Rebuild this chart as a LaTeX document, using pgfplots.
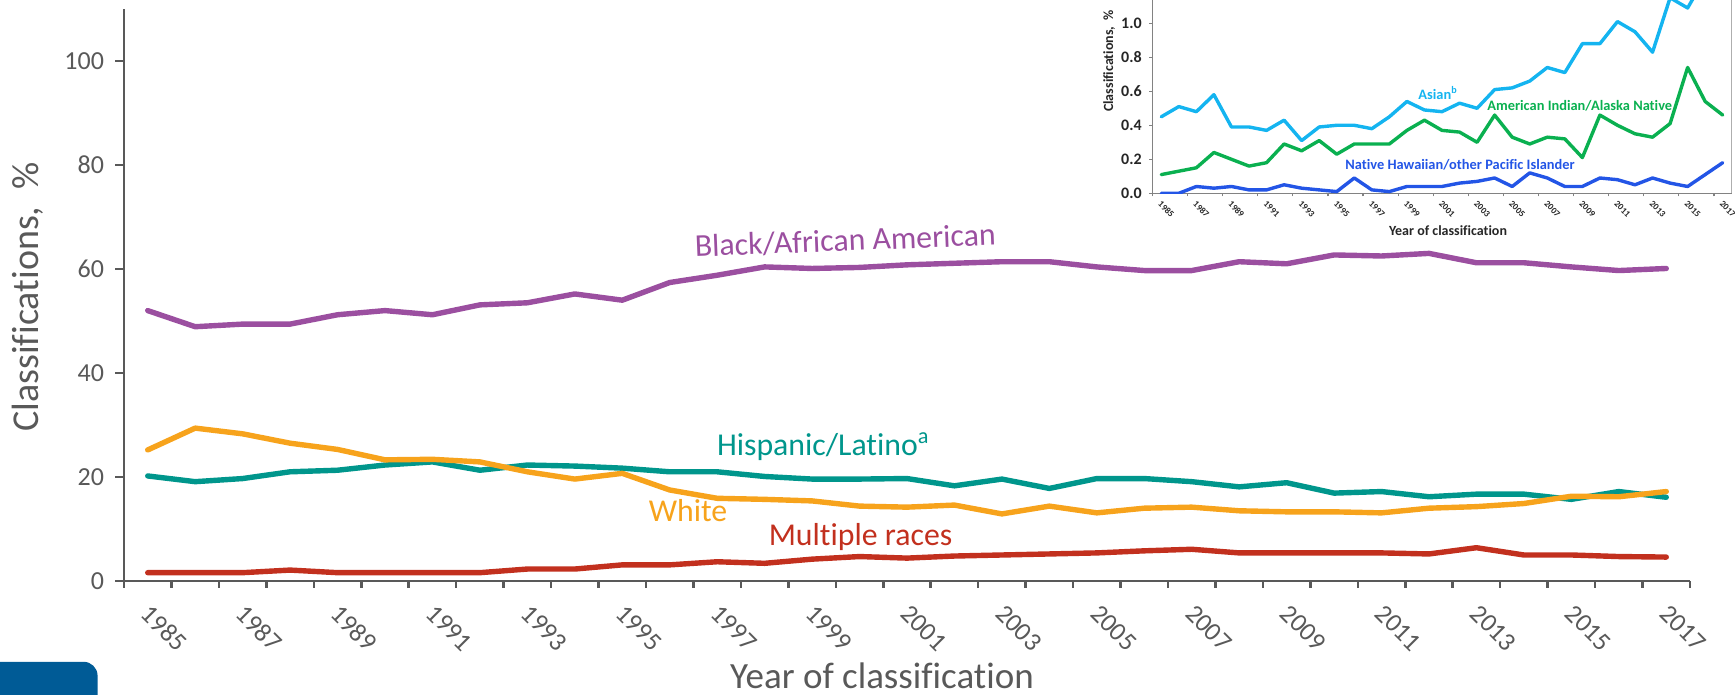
\documentclass[border=0pt]{standalone}
\usepackage{fontspec}
\setmainfont{Carlito}[Ligatures=NoCommon]
\usepackage{pgfplots}
\usepackage{pgfplotstable}
\pgfplotsset{compat=1.18}
\definecolor{axisgray}{RGB}{89,89,89}
\definecolor{cblack}{RGB}{155,79,160}
\definecolor{chisp}{RGB}{0,150,140}
\definecolor{cwhite}{RGB}{247,163,28}
\definecolor{cmulti}{RGB}{194,48,30}
\definecolor{casian}{RGB}{20,180,240}
\definecolor{camind}{RGB}{10,176,80}
\definecolor{cnhpi}{RGB}{35,85,230}
\definecolor{logoblue}{RGB}{0,91,150}
\definecolor{insetgray}{RGB}{130,130,130}
\definecolor{insettext}{RGB}{38,38,38}

\pgfplotstableread{
year black hisp white multi
1985 52.0 20.2 25.2 1.6
1986 48.9 19.1 29.4 1.6
1987 49.4 19.7 28.3 1.6
1988 49.4 21.0 26.5 2.1
1989 51.2 21.3 25.3 1.6
1990 52.0 22.3 23.3 1.6
1991 51.2 22.9 23.4 1.6
1992 53.1 21.3 22.9 1.6
1993 53.5 22.3 21.0 2.3
1994 55.2 22.1 19.6 2.3
1995 54.0 21.7 20.7 3.1
1996 57.4 21.0 17.5 3.1
1997 58.8 21.0 15.9 3.7
1998 60.4 20.1 15.7 3.4
1999 60.1 19.6 15.4 4.2
2000 60.3 19.6 14.4 4.7
2001 60.8 19.7 14.2 4.4
2002 61.1 18.3 14.6 4.8
2003 61.4 19.6 12.9 5.0
2004 61.4 17.8 14.4 5.2
2005 60.4 19.7 13.1 5.4
2006 59.7 19.7 14.0 5.8
2007 59.7 19.1 14.2 6.1
2008 61.4 18.1 13.5 5.4
2009 61.0 18.9 13.3 5.4
2010 62.7 16.9 13.3 5.4
2011 62.5 17.2 13.1 5.4
2012 63.0 16.2 14.0 5.2
2013 61.2 16.7 14.3 6.4
2014 61.2 16.7 14.9 5.0
2015 60.4 15.7 16.3 5.0
2016 59.7 17.2 16.2 4.7
2017 60.1 16.1 17.2 4.6
}\maindata

\pgfplotstableread{
year asian amind nhpi
1985 0.45 0.11 0.00
1986 0.51 0.13 0.00
1987 0.48 0.15 0.04
1988 0.58 0.24 0.03
1989 0.39 0.20 0.04
1990 0.39 0.16 0.02
1991 0.37 0.18 0.02
1992 0.43 0.29 0.05
1993 0.31 0.25 0.03
1994 0.39 0.31 0.02
1995 0.40 0.23 0.01
1996 0.40 0.29 0.09
1997 0.38 0.29 0.02
1998 0.45 0.29 0.01
1999 0.54 0.37 0.04
2000 0.49 0.43 0.04
2001 0.48 0.37 0.04
2002 0.53 0.36 0.06
2003 0.50 0.30 0.07
2004 0.61 0.46 0.09
2005 0.62 0.33 0.04
2006 0.66 0.29 0.12
2007 0.74 0.33 0.09
2008 0.71 0.32 0.04
2009 0.88 0.21 0.04
2010 0.88 0.46 0.09
2011 1.01 0.40 0.08
2012 0.95 0.35 0.05
2013 0.83 0.33 0.09
2014 1.15 0.41 0.06
2015 1.09 0.74 0.04
2016 1.27 0.54 0.11
2017 1.30 0.46 0.18
}\insetdata

\begin{document}
\begin{tikzpicture}
\path[use as bounding box] (0,0) rectangle (867.5pt,347.5pt);

% logo fragment bottom left
\fill[logoblue, rounded corners=7pt] (-12pt,-12pt) rectangle (48.8pt,16.6pt);

\begin{axis}[
  at={(62pt,57pt)}, anchor=south west,
  width=783pt, height=286pt, scale only axis,
  xmin=0, xmax=33, ymin=0, ymax=110,
  axis lines*=left,
  axis line style={axisgray, line width=1.3pt},
  tick align=outside,
  major tick length=4.5pt, minor tick length=3.5pt,
  /pgf/number format/assume math mode=true,
  ytick={0,20,40,60,80,100},
  yticklabels={0,20,40,60,80,100},
  xtick={0.5,2.5,...,32.5},
  xticklabels={1985,1987,1989,1991,1993,1995,1997,1999,2001,2003,2005,2007,2009,2011,2013,2015,2017},
  minor xtick={0,1,...,33},
  every major x tick/.append style={draw=none},
  every minor x tick/.append style={axisgray, line width=1.3pt},
  every major y tick/.append style={axisgray, line width=1.3pt},
  yticklabel style={font=\fontsize{13}{15}\selectfont, text=axisgray, xshift=-2pt},
  xticklabel style={font=\fontsize{13}{15}\selectfont, text=axisgray, rotate=-45, anchor=north west, inner sep=0pt, xshift=6pt, yshift=-3pt},
  clip=false,
  every axis plot/.append style={line width=2.7pt, line join=round, line cap=round},
]
\addplot[cblack] table[x expr=\thisrow{year}-1984.5, y=black] {\maindata};
\addplot[chisp] table[x expr=\thisrow{year}-1984.5, y=hisp] {\maindata};
\addplot[cwhite] table[x expr=\thisrow{year}-1984.5, y=white] {\maindata};
\addplot[cmulti] table[x expr=\thisrow{year}-1984.5, y=multi] {\maindata};
\end{axis}

% main labels
\node[rotate=90, anchor=base, inner sep=0pt, text=axisgray, font=\fontsize{19}{21}\selectfont] at (19pt,199pt) {Classifications,~~\%};
\node[anchor=base, inner sep=0pt, text=axisgray, font=\fontsize{18.5}{20}\selectfont] at (441pt,3pt) {Year of classification};
\node[anchor=base west, inner sep=0pt, rotate=2.3, text=cblack, font=\fontsize{15.9}{17}\selectfont] at (347.5pt,219pt) {Black/African American};
\node[anchor=base west, inner sep=0pt, text=chisp, font=\fontsize{15.9}{17}\selectfont] at (358.3pt,119.6pt) {Hispanic/Latino\textsuperscript{a}};
\node[anchor=base west, inner sep=0pt, text=cwhite, font=\fontsize{15.9}{17}\selectfont] at (324.2pt,86.6pt) {White};
\node[anchor=base west, inner sep=0pt, text=cmulti, font=\fontsize{15.9}{17}\selectfont] at (384.2pt,74.5pt) {Multiple races};

% inset
\begin{axis}[
  at={(576.25pt,250.85pt)}, anchor=south west,
  width=289.5pt, height=96.65pt, scale only axis,
  xmin=-0.5, xmax=32.5, ymin=0, ymax=1.137,
  axis lines*=left,
  axis line style={insetgray, line width=0.7pt},
  tick align=outside,
  major tick length=1.6pt, minor tick length=1.6pt,
  /pgf/number format/assume math mode=true,
  ytick={0,0.2,0.4,0.6,0.8,1.0},
  yticklabels={0.0,0.2,0.4,0.6,0.8,1.0},
  xtick={0,2,...,32},
  xticklabels={1985,1987,1989,1991,1993,1995,1997,1999,2001,2003,2005,2007,2009,2011,2013,2015,2017},
  minor xtick={-0.5,1.5,...,31.5},
  every major x tick/.append style={draw=none},
  every minor x tick/.append style={insetgray, line width=0.6pt},
  every major y tick/.append style={insetgray, line width=0.6pt},
  yticklabel style={font=\bfseries\fontsize{8}{9}\selectfont, text=insettext, xshift=-0.3pt},
  xticklabel style={font=\bfseries\fontsize{4.5}{5}\selectfont, text=insettext, rotate=-45, anchor=north west, inner sep=0pt, xshift=1.5pt, yshift=-1pt},
  every axis plot/.append style={line width=1.7pt, line join=round, line cap=round},
]
\addplot[casian] table[x expr=\thisrow{year}-1985, y=asian] {\insetdata};
\addplot[camind] table[x expr=\thisrow{year}-1985, y=amind] {\insetdata};
\addplot[cnhpi] table[x expr=\thisrow{year}-1985, y=nhpi] {\insetdata};
\draw[insetgray, line width=0.7pt] (rel axis cs:1,0) -- (rel axis cs:1,1.05);
\end{axis}

\node[rotate=90, anchor=base, inner sep=0pt, text=insettext, font=\bfseries\fontsize{7}{8}\selectfont] at (556.5pt,317pt) {Classifications,~~\%};
\node[anchor=center, inner sep=0pt, text=insettext, font=\bfseries\fontsize{7}{8}\selectfont] at (724pt,232pt) {Year of classification};
\node[anchor=west, inner sep=0pt, text=casian, font=\bfseries\fontsize{7.2}{8}\selectfont] at (709pt,301pt) {Asian\textsuperscript{b}};
\node[anchor=west, inner sep=0pt, text=camind, font=\bfseries\fontsize{7.2}{8}\selectfont] at (743.5pt,294.5pt) {American Indian/Alaska Native};
\node[anchor=west, inner sep=0pt, text=cnhpi, font=\bfseries\fontsize{7.2}{8}\selectfont] at (672.5pt,265pt) {Native Hawaiian/other Pacific Islander};
\end{tikzpicture}
\end{document}
